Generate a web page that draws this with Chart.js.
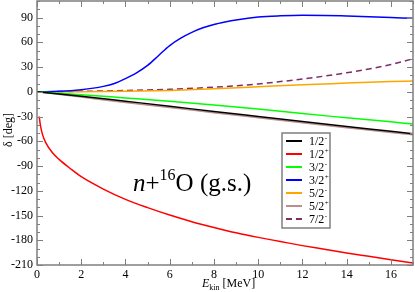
<!DOCTYPE html>
<html>
<head>
<meta charset="utf-8">
<script src="https://cdn.jsdelivr.net/npm/chart.js@4.4.0/dist/chart.umd.min.js"></script>
<style>
html, body { margin: 0; padding: 0; background: #fff; }
#wrap { width: 415px; height: 292px; }
</style>
</head>
<body>
<div id="wrap"><canvas id="phaseChart" width="415" height="292"></canvas></div>
<script>
// phase shifts (deg)
const eGrid = [0, 2, 4, 6, 8, 10, 12, 14, 16, 17];
const d12m = [0, -5.5, -11.5, -17.5, -24, -30, -36, -42, -48, -51];
const d32m = [0, -3.5, -7.5, -11.5, -16, -21, -26.5, -31.5, -36.5, -39];
const d52m = [0, 0, 0.5, 1.5, 3.5, 6, 8.5, 10.5, 12.5, 13];
const d52p = [0, -6.5, -13, -19, -25.5, -31.5, -37.5, -43.5, -49.5, -52];
const d72m = [0, 0.5, 1.5, 3, 5.5, 9.5, 15.5, 23, 33, 40];

const eBlue = [0, 1, 2, 3, 3.5, 4, 4.5, 5, 5.5, 6, 6.5, 7, 7.5, 8, 8.5, 9, 10, 11, 12, 13, 14, 15, 16, 17];
const d32p = [0, 0.5, 2.5, 6.5, 10, 16, 23, 32, 44, 56, 65, 72, 77.5, 81.5, 84.5, 87, 90.5, 92, 92.7, 92.5, 91.8, 91, 90, 89];

const eRed = [0.1, 0.15, 0.25, 0.4, 0.7, 1, 1.5, 2, 3, 4, 5, 6, 7, 8, 9, 10, 11, 12, 13, 14, 15, 16, 17];
const d12p = [-30, -40, -52, -62, -74, -82, -93, -103, -118, -130.5, -140.5, -149.5, -157.5, -164.5, -171, -176.5, -181.5, -186.5, -191, -195.5, -199.5, -203.5, -207.5];

const xTicks = [0, 2, 4, 6, 8, 10, 12, 14, 16];
const yTicks = [-210, -180, -150, -120, -90, -60, -30, 0, 30, 60, 90];

const legendJ = ['1/2', '1/2', '3/2', '3/2', '5/2', '5/2', '7/2'];
const legendP = ['-', '+', '-', '+', '-', '+', '-'];

const pts = (xs, ys) => xs.map((v, i) => ({ x: v, y: ys[i] }));

const series = [
  { data: pts(eGrid, d12m), color: '#000000' },
  { data: pts(eRed, d12p), color: '#ff0000' },
  { data: pts(eGrid, d32m), color: '#00ff00' },
  { data: pts(eBlue, d32p), color: '#0000ff' },
  { data: pts(eGrid, d52m), color: '#ffa500' },
  { data: pts(eGrid, d52p), color: '#bc8f8f' },
  { data: pts(eGrid, d72m), color: '#7b2f6a', dash: [6, 4] }
];

const serif = 'Liberation Serif, Times New Roman, serif';

function supText(ctx, x, y, base, sup, size) {
  ctx.font = size + 'px ' + serif;
  ctx.fillText(base, x, y);
  const w = ctx.measureText(base).width;
  ctx.font = Math.round(size * 0.62) + 'px ' + serif;
  ctx.fillText(sup, x + w + 0.5, y - size * 0.42);
}

const decorPlugin = {
  id: 'decor',
  afterDraw(chart) {
    const { ctx, chartArea: a, scales: { x, y } } = chart;
    ctx.save();
    // frame
    ctx.strokeStyle = '#7f7f7f';
    ctx.lineWidth = 1.5;
    ctx.strokeRect(a.left, a.top, a.right - a.left, a.bottom - a.top);
    // inward ticks on all sides
    ctx.lineWidth = 1;
    ctx.beginPath();
    for (let v = 0; v <= 17; v += 1) {
      const px = Math.round(x.getPixelForValue(v)) + 0.5;
      const len = v % 2 === 0 ? 6 : 3;
      ctx.moveTo(px, a.bottom); ctx.lineTo(px, a.bottom - len);
      ctx.moveTo(px, a.top); ctx.lineTo(px, a.top + len);
    }
    for (let v = -210; v <= 110; v += 10) {
      const py = Math.round(y.getPixelForValue(v)) + 0.5;
      const len = v % 30 === 0 ? 6 : 3;
      ctx.moveTo(a.left, py); ctx.lineTo(a.left + len, py);
      ctx.moveTo(a.right, py); ctx.lineTo(a.right - len, py);
    }
    ctx.stroke();

    // axis titles
    ctx.fillStyle = '#000';
    ctx.textBaseline = 'alphabetic';
    ctx.save();
    ctx.translate(12, 130);
    ctx.rotate(-Math.PI / 2);
    ctx.textAlign = 'center';
    ctx.font = '12px ' + serif;
    ctx.fillText('\u03b4 [deg]', 0, 0);
    ctx.restore();

    ctx.textAlign = 'left';
    let tx = 202;
    ctx.font = 'italic 12px ' + serif;
    ctx.fillText('E', tx, 287);
    tx += ctx.measureText('E').width;
    ctx.font = '8px ' + serif;
    ctx.fillText('kin', tx, 290);
    tx += ctx.measureText('kin').width + 3;
    ctx.font = '12px ' + serif;
    ctx.fillText('[MeV]', tx, 287);

    // label n+16O (g.s.)
    let ax = 133;
    const ab = 191;
    ctx.font = 'italic 25px ' + serif;
    ctx.fillText('n', ax, ab);
    ax += ctx.measureText('n').width;
    ctx.font = '25px ' + serif;
    ctx.fillText('+', ax, ab);
    ax += ctx.measureText('+').width;
    ctx.font = '16px ' + serif;
    ctx.fillText('16', ax, ab - 11);
    ax += ctx.measureText('16').width;
    ctx.font = '25px ' + serif;
    ctx.fillText('O (g.s.)', ax, ab);

    // legend box
    const lx = 282, ly = 133, lw = 48, lh = 95;
    ctx.fillStyle = '#fff';
    ctx.fillRect(lx, ly, lw, lh);
    ctx.strokeStyle = '#7f7f7f';
    ctx.lineWidth = 1.5;
    ctx.strokeRect(lx, ly, lw, lh);
    series.forEach((s, i) => {
      const cy = ly + 8 + i * 13;
      ctx.strokeStyle = s.color;
      ctx.lineWidth = 2;
      ctx.setLineDash(s.dash || []);
      ctx.beginPath();
      ctx.moveTo(lx + 4, cy);
      ctx.lineTo(lx + 20, cy);
      ctx.stroke();
      ctx.setLineDash([]);
      ctx.fillStyle = '#000';
      supText(ctx, lx + 27, cy + 4, legendJ[i], legendP[i], 12);
    });
    ctx.restore();
  }
};

const ctx = document.getElementById('phaseChart').getContext('2d');
const phaseChart = new Chart(ctx, {
  type: 'line',
  data: {
    datasets: series.map(s => ({
      data: s.data,
      borderColor: s.color,
      borderWidth: 1.5,
      borderDash: s.dash || [],
      pointRadius: 0,
      fill: false,
      cubicInterpolationMode: 'monotone'
    }))
  },
  options: {
    responsive: false,
    animation: false,
    devicePixelRatio: 1,
    layout: { padding: { top: 1, right: 2, left: 0, bottom: 0 } },
    plugins: { legend: { display: false }, tooltip: { enabled: false } },
    scales: {
      x: {
        type: 'linear',
        min: 0,
        max: 17,
        grid: { display: false, drawTicks: false },
        border: { display: false },
        afterBuildTicks: s => { s.ticks = xTicks.map(v => ({ value: v })); },
        afterFit: s => { s.height = 27; s.paddingLeft = 0; s.paddingRight = 0; },
        ticks: { autoSkip: false, maxRotation: 0, padding: 3, color: '#000', font: { family: serif, size: 12 } }
      },
      y: {
        type: 'linear',
        min: -210,
        max: 110,
        grid: { display: false, drawTicks: false },
        border: { display: false },
        afterBuildTicks: s => { s.ticks = yTicks.map(v => ({ value: v })); },
        afterFit: s => { s.width = 37; s.paddingTop = 0; s.paddingBottom = 0; },
        ticks: { autoSkip: false, padding: 4, color: '#000', font: { family: serif, size: 12 } }
      }
    }
  },
  plugins: [decorPlugin]
});
</script>
</body>
</html>
